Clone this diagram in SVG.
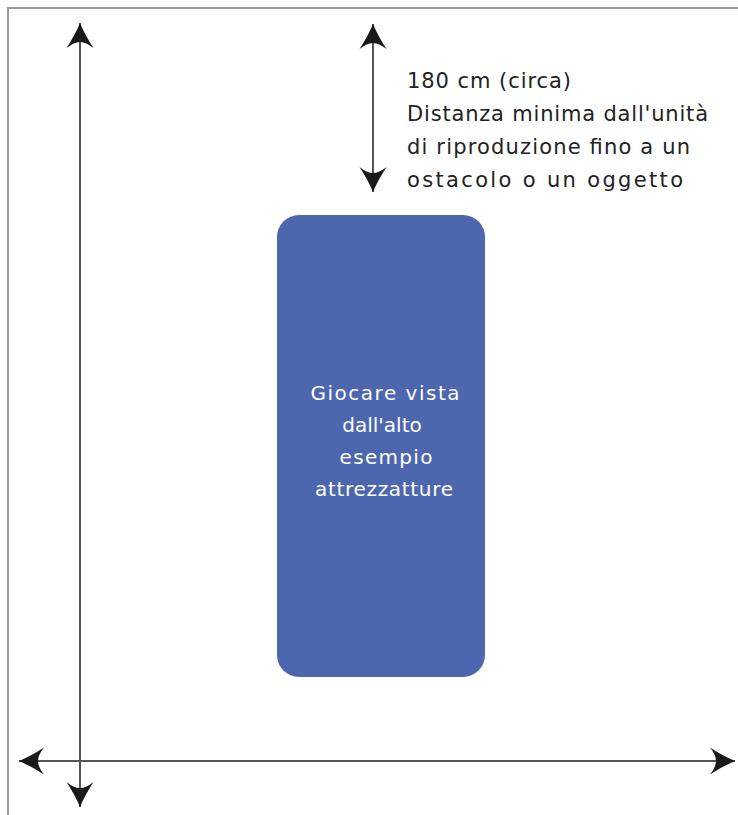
<svg xmlns="http://www.w3.org/2000/svg" width="738" height="815" viewBox="0 0 738 815">
<style>
.frame{fill:none;stroke:#9a9a9a;stroke-width:2}
.conn{stroke:#555;stroke-width:2;fill:none}
.lbl{font-family:"DejaVu Sans","Liberation Sans",sans-serif;font-size:21px;fill:#222}
.nodeText{font-family:"DejaVu Sans","Liberation Sans",sans-serif;font-size:20px;fill:#fff;text-anchor:middle}
</style>
<defs>
<marker id="ah" markerUnits="userSpaceOnUse" markerWidth="30" markerHeight="30" viewBox="-26 -15 30 30" refX="0" refY="0" orient="auto-start-reverse">
<path d="M0,0 Q-12,-5 -25,-13.5 Q-19,-6 -19,0 Q-19,6 -25,13.5 Q-12,5 0,0 Z" fill="#1a1a1a"/>
</marker>
</defs>
<rect width="738" height="815" fill="#fff"/>
<path class="frame" d="M8,815 V8 H738"/>
<g id="connectors">
<line class="conn" x1="80" y1="23" x2="80" y2="807" marker-start="url(#ah)" marker-end="url(#ah)"/>
<line class="conn" x1="19" y1="761" x2="735" y2="761" marker-start="url(#ah)" marker-end="url(#ah)"/>
<line class="conn" x1="373" y1="24" x2="373" y2="192" marker-start="url(#ah)" marker-end="url(#ah)"/>
</g>
<g id="label">
<text class="lbl" x="407" y="88" textLength="164" lengthAdjust="spacing">180 cm (circa)</text>
<text class="lbl" x="407" y="121" textLength="301" lengthAdjust="spacing">Distanza minima dall'unità</text>
<text class="lbl" x="407" y="154" textLength="283" lengthAdjust="spacing">di riproduzione fino a un</text>
<text class="lbl" x="407" y="187" textLength="276" lengthAdjust="spacing">ostacolo o un oggetto</text>
</g>
<g id="equipment">
<rect x="277" y="215" width="208" height="462" rx="22" fill="#4d67af"/>
<text class="nodeText" x="385" y="400" textLength="149" lengthAdjust="spacing">Giocare vista</text>
<text class="nodeText" x="382" y="432">dall'alto</text>
<text class="nodeText" x="386" y="464" textLength="93" lengthAdjust="spacing">esempio</text>
<text class="nodeText" x="384" y="496" textLength="138" lengthAdjust="spacing">attrezzatture</text>
</g>
</svg>
